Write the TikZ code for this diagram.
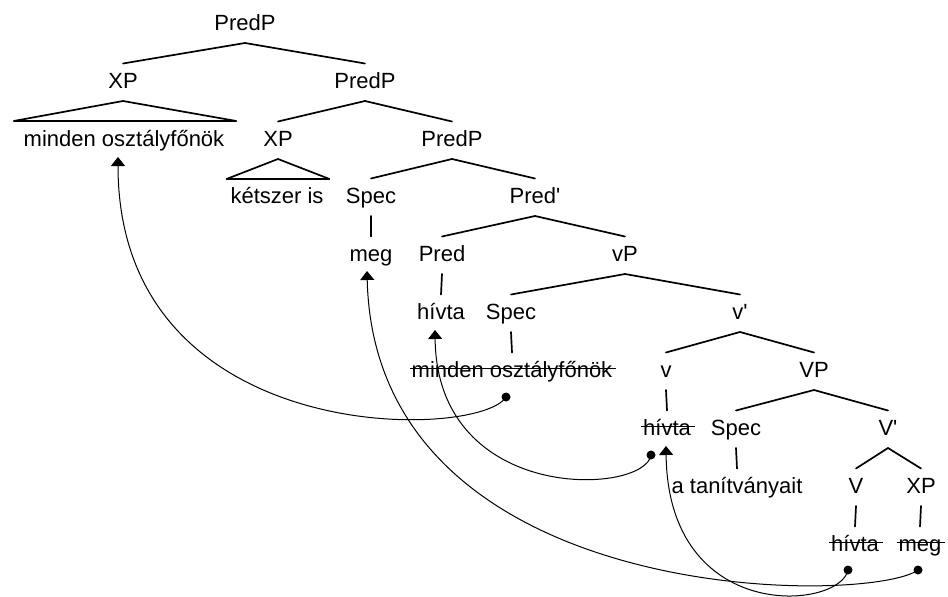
\documentclass[tikz,border=0pt]{standalone}
\usepackage{fontspec}
\setmainfont{Liberation Sans}
\usetikzlibrary{arrows.meta}
\begin{document}
\begin{tikzpicture}[x=1pt,y=-1pt,
  font=\fontsize{22}{26}\selectfont,
  lbl/.style={anchor=base,inner sep=0pt,outer sep=0pt,text height=15pt,text depth=4pt},
  branch/.style={line width=1.7pt,line cap=round,line join=round},
  strike/.style={line width=1.3pt},
  move/.style={line width=1pt,-{Triangle[width=14pt,length=9pt]}},
  dot/.style={fill=black}]
\useasboundingbox (0,0) rectangle (948,597);

% labels of the tree, each placed on its baseline
\node[lbl] (root)    at (245,30)  {PredP};
\node[lbl] (xp1)     at (123,88)  {XP};
\node[lbl] (predp2)  at (365,88)  {PredP};
\node[lbl] (minden1) at (124,146) {minden osztályfőnök};
\node[lbl] (xp2)     at (278,146) {XP};
\node[lbl] (predp3)  at (452,146) {PredP};
\node[lbl] (ketszer) at (277,203) {kétszer is};
\node[lbl] (spec1)   at (371,203) {Spec};
\node[lbl] (predbar) at (535,203) {Pred\textquotesingle};
\node[lbl] (meg1)    at (371,261) {meg};
\node[lbl] (pred)    at (442,261) {Pred};
\node[lbl] (vp)      at (625,261) {vP};
\node[lbl] (hivta1)  at (441,319) {hívta};
\node[lbl] (spec2)   at (511,319) {Spec};
\node[lbl] (vbar)    at (740,319) {v\textquotesingle};
\node[lbl] (minden2) at (512,377) {minden osztályfőnök};
\node[lbl] (vhead)   at (666,377) {v};
\node[lbl] (VP)      at (814,377) {VP};
\node[lbl] (hivta2)  at (667,435) {hívta};
\node[lbl] (spec3)   at (736,435) {Spec};
\node[lbl] (Vbar)    at (888,435) {V\textquotesingle};
\node[lbl] (atan)    at (737,493) {a tanítványait};
\node[lbl] (Vhead)   at (856,493) {V};
\node[lbl] (xp3)     at (921,493) {XP};
\node[lbl] (hivta3)  at (855,551) {hívta};
\node[lbl] (meg2)    at (920,551) {meg};

% branches: from just below a mother to just above a daughter
\foreach \m/\d in {root/xp1,root/predp2,predp2/xp2,predp2/predp3,
    predp3/spec1,predp3/predbar,predbar/pred,predbar/vp,vp/spec2,vp/vbar,
    vbar/vhead,vbar/VP,VP/spec3,VP/Vbar,Vbar/Vhead,Vbar/xp3,
    spec1/meg1,pred/hivta1,spec2/minden2,vhead/hivta2,spec3/atan,
    Vhead/hivta3,xp3/meg2}
  \draw[branch] ([yshift=-9pt]\m.south) -- ([yshift=9.5pt]\d.north);

% roofs over unanalysed phrases
\draw[branch] ([yshift=-9pt]xp1.south) -- ([xshift=-10pt,yshift=10pt]minden1.north west)
  -- ([xshift=12pt,yshift=10pt]minden1.north east) -- cycle;
\draw[branch] ([yshift=-9pt]xp2.south) -- ([xshift=-4pt,yshift=9pt]ketszer.north west)
  -- ([xshift=6pt,yshift=9pt]ketszer.north east) -- cycle;

% deleted copies
\foreach \n in {minden2,hivta2,hivta3,meg2}
  \draw[strike] ([xshift=-2pt,yshift=8.5pt]\n.base west) -- ([xshift=4pt,yshift=8.5pt]\n.base east);

% ends of the movement arrows
\coordinate (d1) at ([xshift=-6pt,yshift=-16pt]minden2.south);
\coordinate (t1) at ([xshift=-6pt,yshift=-7pt]minden1.south);
\coordinate (d2) at ([xshift=-16pt,yshift=-16pt]hivta2.south);
\coordinate (t2) at ([xshift=-6pt,yshift=-7pt]hivta1.south);
\coordinate (d3) at ([xshift=-7pt,yshift=-15pt]hivta3.south);
\coordinate (t3) at ([xshift=-1pt,yshift=-7pt]hivta2.south);
\coordinate (d4) at ([xshift=-2pt,yshift=-15pt]meg2.south);
\coordinate (t4) at ([xshift=-4pt,yshift=-6pt]meg1.south);

\draw[move] (d1) .. controls (480,440) and (118,450) .. (t1);
\draw[move] (d2) .. controls (645,495) and (437,505) .. (t2);
\draw[move] (d3) .. controls (840,610) and (668,625) .. (t3);
\draw[move] (d4) .. controls (870,605) and (375,610) .. (t4);

\foreach \p in {d1,d2,d3,d4}
  \fill[dot] (\p) circle (4.5pt);
\end{tikzpicture}
\end{document}
